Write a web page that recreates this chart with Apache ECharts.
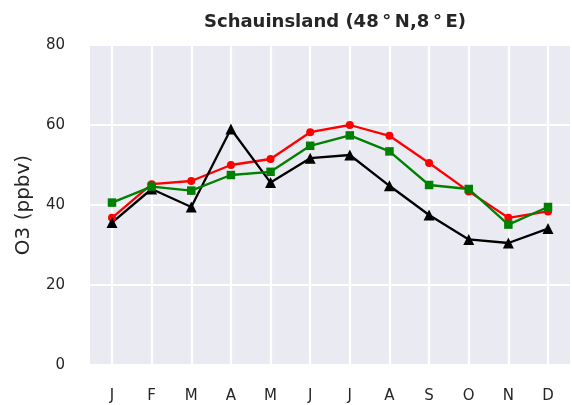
<!DOCTYPE html>
<html lang="en">
<head>
    <meta charset="UTF-8">
    <title>Schauinsland O3</title>
    <script src="https://cdn.jsdelivr.net/npm/echarts@6/dist/echarts.min.js"></script>
    <style>
        html, body { margin: 0; padding: 0; background: #fff; }
        #chart { width: 572px; height: 405px; }
    </style>
</head>
<body>
    <div id="chart"></div>
    <script>
        // monthly data
        const months = ['J', 'F', 'M', 'A', 'M', 'J', 'J', 'A', 'S', 'O', 'N', 'D'];
        const redSeries = [36.8, 45.2, 46.0, 50.0, 51.5, 58.2, 60.0, 57.3, 50.5, 43.4, 36.8, 38.4];
        const greenSeries = [40.6, 44.6, 43.6, 47.5, 48.3, 54.8, 57.4, 53.4, 45.0, 44.0, 35.1, 39.5];
        const blackSeries = [35.6, 44.0, 39.5, 59.0, 45.6, 51.7, 52.5, 44.8, 37.5, 31.4, 30.5, 34.1];
        const yTicks = [0, 20, 40, 60, 80];

        const textColor = '#262626';
        const font = 'DejaVu Sans';
        const yMin = yTicks[0];
        const yMax = yTicks[yTicks.length - 1];

        const chart = echarts.init(document.getElementById('chart'));

        function lineSeries(name, data, color, symbol, size) {
            return {
                name: name,
                type: 'line',
                xAxisIndex: 1,
                yAxisIndex: 1,
                data: data,
                symbol: symbol,
                symbolSize: size,
                showSymbol: true,
                lineStyle: { color: color, width: 2.3 },
                itemStyle: { color: color },
                emphasis: { disabled: true },
                animation: false
            };
        }

        chart.setOption({
            animation: false,
            title: {
                text: 'Schauinsland (48\u2009\u00b0\u2009N,8\u2009\u00b0\u2009E)',
                left: 330,
                top: 8,
                textAlign: 'center',
                textStyle: { fontFamily: font, fontWeight: 'bold', fontSize: 18, color: textColor }
            },
            grid: [
                // background panel with horizontal grid
                { left: 90, top: 45, width: 480, height: 320, show: true, backgroundColor: '#eaeaf2', borderWidth: 0 },
                // data area, first and last month sit inset from the panel edges
                { left: 112, top: 45, width: 436, height: 320 }
            ],
            xAxis: [
                { type: 'value', gridIndex: 0, show: false, min: 0, max: 1 },
                {
                    type: 'category',
                    gridIndex: 1,
                    data: months,
                    boundaryGap: false,
                    axisLine: { show: false },
                    axisTick: { show: false },
                    axisLabel: { color: textColor, fontFamily: font, fontSize: 15, margin: 24, interval: 0 },
                    splitLine: { show: true, interval: 0, lineStyle: { color: '#ffffff', width: 2.2 } }
                }
            ],
            yAxis: [
                {
                    type: 'value',
                    gridIndex: 0,
                    min: yMin,
                    max: yMax,
                    interval: 20,
                    name: 'O3 (ppbv)',
                    nameLocation: 'middle',
                    nameGap: 56,
                    nameTextStyle: { color: textColor, fontFamily: font, fontSize: 20 },
                    axisLine: { show: false },
                    axisTick: { show: false },
                    axisLabel: { color: textColor, fontFamily: font, fontSize: 15, margin: 25, padding: [4, 0, 0, 0] },
                    splitLine: { show: true, lineStyle: { color: '#ffffff', width: 2.2 } }
                },
                { type: 'value', gridIndex: 1, show: false, min: yMin, max: yMax }
            ],
            series: [
                lineSeries('red', redSeries, '#ff0000', 'circle', 8),
                lineSeries('black', blackSeries, '#000000', 'triangle', 11),
                lineSeries('green', greenSeries, '#008000', 'rect', 8.5)
            ]
        });
    </script>
</body>
</html>
